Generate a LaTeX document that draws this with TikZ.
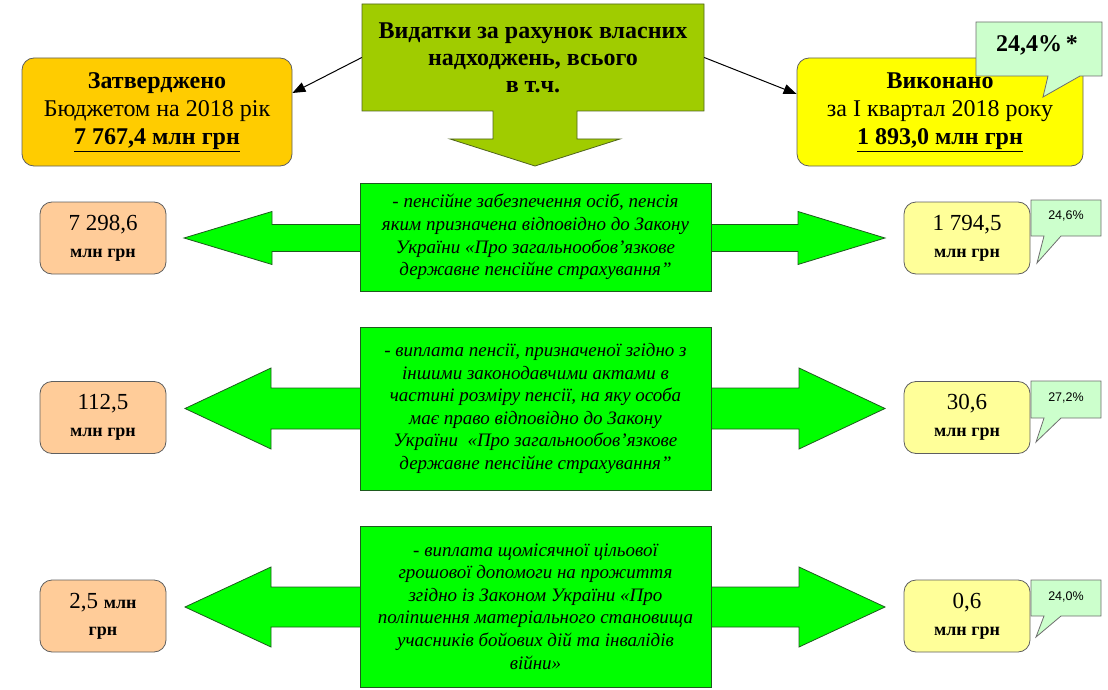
\documentclass[tikz,border=0pt]{standalone}
\usepackage{fontspec}
\setmainfont{Liberation Serif}
\newfontfamily\sansf{Liberation Sans}
\usetikzlibrary{arrows.meta}
\definecolor{cOlive}{RGB}{160,204,0}
\definecolor{cOliveD}{RGB}{80,100,30}
\definecolor{cOrange}{RGB}{255,204,0}
\definecolor{cYellow}{RGB}{255,255,0}
\definecolor{cPeach}{RGB}{255,204,153}
\definecolor{cLYellow}{RGB}{255,255,153}
\definecolor{cGreen}{RGB}{0,255,0}
\definecolor{cGreenD}{RGB}{30,90,30}
\definecolor{cCall}{RGB}{204,255,204}
\definecolor{cBorder}{RGB}{95,95,95}
\definecolor{cCallB}{RGB}{110,110,110}
\tikzset{
  rbox/.style={draw=cBorder, line width=0.8pt, rounded corners=12pt, align=center, inner sep=0pt},
  gbox/.style={draw=cGreenD, fill=cGreen, line width=0.8pt, align=center, inner sep=0pt,
    minimum width=351pt, font=\fontsize{19}{22.6}\selectfont\itshape},
  garrow/.style={draw=cGreenD, fill=cGreen, line width=0.8pt, line join=miter},
  conn/.style={draw=black, line width=1pt, -{Triangle[length=13pt,width=10pt]}},
  callout/.style={draw=cCallB, fill=cCall, line width=0.8pt, line join=miter},
  numbox/.style={rbox, minimum width=126pt, minimum height=72pt, font=\fontsize{23}{27}\selectfont},
  pcttext/.style={font=\sansf\fontsize{12.5}{14}\selectfont, inner sep=0pt},
}
\newcommand{\mlnb}{{\fontsize{18}{20}\selectfont\textbf{млн грн}}}
\begin{document}
\begin{tikzpicture}[x=1pt,y=-1pt]
\useasboundingbox (0,0) rectangle (1108,690);

% title callout with down arrow
\draw[draw=cOliveD, fill=cOlive, line width=0.8pt, line join=miter]
  (362,4) -- (704,4) -- (704,111) -- (577,111) -- (577,139) -- (620,139) -- (535,166)
  -- (450,139) -- (493,139) -- (493,111) -- (362,111) -- cycle;
\node[minimum width=342pt, minimum height=107pt, inner sep=0pt, align=center,
  font=\fontsize{24}{27}\selectfont\bfseries] (title) at (533,57.5)
  {Видатки за рахунок власних\\надходжень, всього\\в т.ч.};

% top boxes
\node[rbox, fill=cOrange, minimum width=270pt, minimum height=108pt,
  font=\fontsize{24}{28}\selectfont] (appr) at (157,112)
  {\textbf{Затверджено}\\Бюджетом на 2018 рік\\\textbf{\underline{7 767,4 млн грн}}};
\node[rbox, fill=cYellow, minimum width=286pt, minimum height=108pt,
  font=\fontsize{24}{28}\selectfont] (done) at (940,112)
  {\textbf{Виконано}\\за I квартал 2018 року\\\textbf{\underline{1 893,0 млн грн}}};

\draw[conn] (title.west) -- ([yshift=19pt]appr.east);
\draw[conn] (title.east) -- ([yshift=18pt]done.west);

% top percentage callout
\draw[callout] (976,22) -- (1102,22) -- (1102,76) -- (1080,76) -- (1043,97) -- (1048,76) -- (976,76) -- cycle;
\node[inner sep=0pt, font=\fontsize{24}{27}\selectfont\bfseries] (pct0) at (1037,45) {24,4\%\,*};

% ---------- row 1 ----------
\draw[garrow] (184,238) -- (272,211.5) -- (272,224.5) -- (798,224.5) -- (798,211.5) -- (885,238)
  -- (798,264.5) -- (798,251.5) -- (272,251.5) -- (272,264.5) -- cycle;
\node[gbox, minimum height=108pt] (g1) at (535.5,237)
  {- пенсійне забезпечення осіб, пенсія\\яким призначена відповідно до Закону\\України «Про загальнообов’язкове\\державне пенсійне страхування”};
\node[numbox, fill=cPeach] (l1) at (103,238) {7 298,6\\\mlnb};
\node[numbox, fill=cLYellow] (r1) at (967,238) {1 794,5\\\mlnb};
\draw[callout] (1031,200) -- (1101,200) -- (1101,236) -- (1061,236) -- (1037,263) -- (1044,236) -- (1031,236) -- cycle;
\node[pcttext] (p1) at (1066,216) {24,6\%};

% ---------- row 2 ----------
\draw[garrow] (185,408.5) -- (271,368) -- (271,388) -- (799,388) -- (799,368) -- (885,408.5)
  -- (799,449) -- (799,429) -- (271,429) -- (271,449) -- cycle;
\node[gbox, minimum height=163pt] (g2) at (535.5,408.5)
  {- виплата пенсії, призначеної згідно з\\іншими законодавчими актами в\\частині розміру пенсії, на яку особа\\має право відповідно до Закону\\України \ «Про загальнообов’язкове\\державне пенсійне страхування”};
\node[numbox, fill=cPeach] (l2) at (103,417.5) {112,5\\\mlnb};
\node[numbox, fill=cLYellow] (r2) at (967,417.5) {30,6\\\mlnb};
\draw[callout] (1031,381) -- (1101,381) -- (1101,418) -- (1061,418) -- (1036,442) -- (1044,418) -- (1031,418) -- cycle;
\node[pcttext] (p2) at (1066,398) {27,2\%};

% ---------- row 3 ----------
\draw[garrow] (185,607) -- (271,567) -- (271,587) -- (799,587) -- (799,567) -- (885,607)
  -- (799,647) -- (799,627) -- (271,627) -- (271,647) -- cycle;
\node[gbox, minimum height=161pt] (g3) at (535.5,606.5)
  {- виплата щомісячної цільової\\грошової допомоги на прожиття\\згідно із Законом України «Про\\поліпшення матеріального становища\\учасників бойових дій та інвалідів\\війни»};
\node[numbox, fill=cPeach] (l3) at (103,616) {2,5 {\fontsize{18}{20}\selectfont\textbf{млн}}\\{\fontsize{18}{20}\selectfont\textbf{грн}}};
\node[numbox, fill=cLYellow] (r3) at (967,616) {0,6\\\mlnb};
\draw[callout] (1031,580) -- (1101,580) -- (1101,616) -- (1061,616) -- (1036,637) -- (1044,616) -- (1031,616) -- cycle;
\node[pcttext] (p3) at (1066,597) {24,0\%};
\end{tikzpicture}
\end{document}
